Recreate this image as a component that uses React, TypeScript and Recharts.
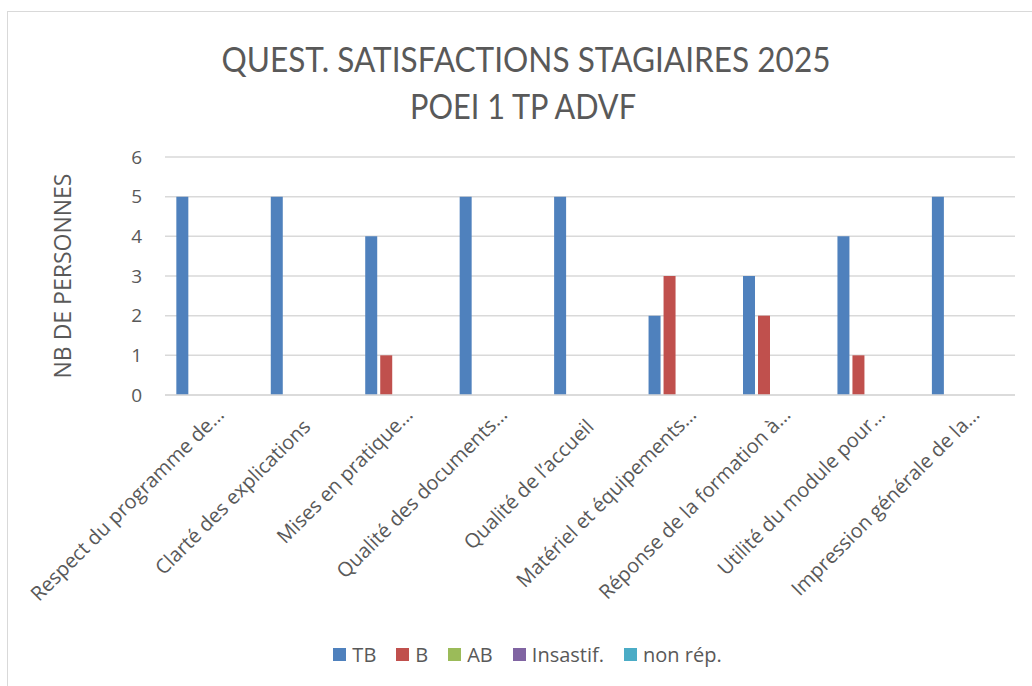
import React from "react";
import { BarChart, Bar, XAxis, YAxis, CartesianGrid, Legend } from "recharts";

const categories = [
  "Respect du programme de…",
  "Clarté des explications",
  "Mises en pratique…",
  "Qualité des documents…",
  "Qualité de l’accueil",
  "Matériel et équipements…",
  "Réponse de la formation à…",
  "Utilité du module pour…",
  "Impression générale de la…",
];

const tb = [5, 5, 4, 5, 5, 2, 3, 4, 5];
const b = [0, 0, 1, 0, 0, 3, 2, 1, 0];
const ab = [0, 0, 0, 0, 0, 0, 0, 0, 0];
const insatisf = [0, 0, 0, 0, 0, 0, 0, 0, 0];
const nonRep = [0, 0, 0, 0, 0, 0, 0, 0, 0];

const yTicks = [0, 1, 2, 3, 4, 5, 6];

const series = [
  { key: "TB", color: "#4f81bd" },
  { key: "B", color: "#c0504d" },
  { key: "AB", color: "#9bbb59" },
  { key: "Insastif.", color: "#8064a2" },
  { key: "non rép.", color: "#4bacc6" },
];

const data = categories.map((name, i) => ({
  name,
  TB: tb[i],
  B: b[i],
  AB: ab[i],
  "Insastif.": insatisf[i],
  "non rép.": nonRep[i],
}));

const FONT = "'Open Sans', 'DejaVu Sans', sans-serif";
const GREY = "#595959";

function CategoryTick(props: any) {
  const { x, y, payload } = props;
  const label: string = payload.value;
  const cut = label.endsWith("…");
  const ax = x + (cut ? 13 : 5);
  const ay = y + (cut ? 21 : 33);
  return (
    <text
      x={ax}
      y={ay}
      transform={`rotate(-45 ${ax} ${ay})`}
      textAnchor="end"
      fontFamily={FONT}
      fontSize={20}
      fill={GREY}
    >
      {label}
    </text>
  );
}

function LegendBox() {
  return (
    <div
      style={{
        display: "flex",
        justifyContent: "center",
        alignItems: "center",
        gap: 20,
        height: 28,
        fontFamily: FONT,
        fontSize: 20,
        color: GREY,
      }}
    >
      {series.map((s) => (
        <span key={s.key} style={{ display: "flex", alignItems: "center" }}>
          <span style={{ width: 13, height: 13, background: s.color, marginRight: 6, display: "inline-block" }} />
          {s.key}
        </span>
      ))}
    </div>
  );
}

export default function App() {
  return (
    <div style={{ position: "absolute", left: 0, top: 0, width: 1032, height: 686, overflow: "hidden", background: "#fff" }}>
      <div
        style={{
          position: "absolute",
          left: 7,
          top: 11,
          width: 1060,
          height: 720,
          border: "1.5px solid #d9d9d9",
        }}
      />
      <svg width={1032} height={140} style={{ position: "absolute", left: 0, top: 0 }}>
        <text x={526} y={72} textAnchor="middle" textLength={609} lengthAdjust="spacingAndGlyphs"
          fontFamily="Lato, 'Open Sans', sans-serif" fontWeight={400} fontSize={35} fill={GREY}>
          QUEST. SATISFACTIONS STAGIAIRES 2025
        </text>
        <text x={523} y={119} textAnchor="middle" textLength={226} lengthAdjust="spacingAndGlyphs"
          fontFamily="Lato, 'Open Sans', sans-serif" fontWeight={400} fontSize={35} fill={GREY}>
          POEI 1 TP ADVF
        </text>
      </svg>
      <div style={{ position: "absolute", left: 0, top: 0 }}>
        <BarChart
          width={1032}
          height={686}
          data={data}
          margin={{ top: 157, right: 17, left: 40, bottom: 18 }}
          barCategoryGap="12%"
          barGap={3}
        >
          <CartesianGrid vertical={false} stroke="#d9d9d9" strokeWidth={1.5} />
          <XAxis
            dataKey="name"
            interval={0}
            height={245}
            tickLine={false}
            tickSize={0}
            tickMargin={0}
            axisLine={{ stroke: "#d9d9d9", strokeWidth: 1.5 }}
            tick={<CategoryTick />}
          />
          <YAxis
            width={125}
            domain={[0, 6]}
            ticks={yTicks}
            axisLine={false}
            tickLine={false}
            tickSize={0}
            tickMargin={23}
            tick={{ fontFamily: FONT, fontSize: 19, fill: GREY }}
            label={{
              content: () => (
                <text
                  x={62}
                  y={276}
                  transform="rotate(-90 62 276)"
                  textAnchor="middle"
                  dominantBaseline="central"
                  fontFamily={FONT}
                  fontSize={23}
                  fill={GREY}
                >
                  NB DE PERSONNES
                </text>
              ),
            }}
          />
          <Legend verticalAlign="bottom" content={<LegendBox />} />
          {series.map((s) => (
            <Bar key={s.key} dataKey={s.key} fill={s.color} isAnimationActive={false} />
          ))}
        </BarChart>
      </div>
    </div>
  );
}
